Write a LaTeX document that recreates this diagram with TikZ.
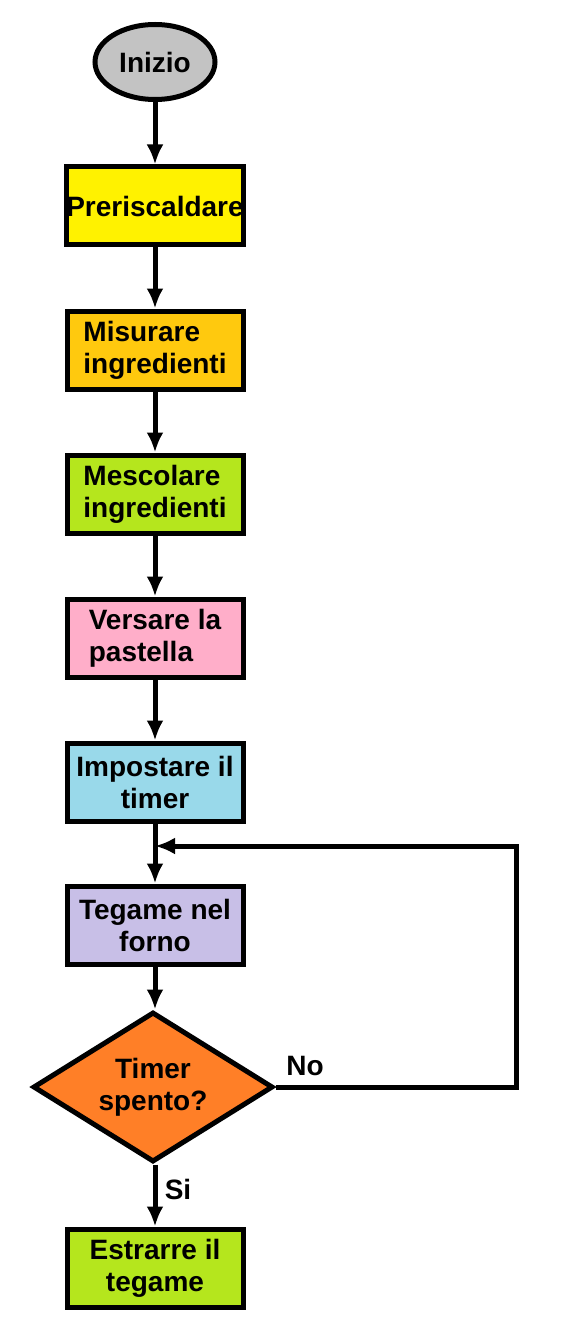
\documentclass[tikz,border=0pt]{standalone}
\usepackage{fontspec}
\setmainfont{Liberation Sans}
\usepackage{tikz}
\usepackage{xcolor}
\usetikzlibrary{arrows.meta}
\usetikzlibrary{shapes.geometric}

\definecolor{grigio}{HTML}{C3C3C3}
\definecolor{giallo}{HTML}{FFF200}
\definecolor{oro}{HTML}{FFC90E}
\definecolor{lime}{HTML}{B5E61D}
\definecolor{rosa}{HTML}{FFAEC9}
\definecolor{azzurro}{HTML}{99D9EA}
\definecolor{lavanda}{HTML}{C8BFE7}
\definecolor{arancio}{HTML}{FF7F27}

\tikzset{
    testo/.style={font=\fontsize{28}{32}\selectfont\bfseries},
    passo/.style={testo, draw=black, line width=5pt, minimum width=176pt, minimum height=78pt, inner sep=0pt, align=center},
    freccia/.style={line width=5pt, -{Latex[length=20pt,width=17pt]}}
}

\begin{document}
\begin{tikzpicture}[x=1pt,y=-1pt]
                \useasboundingbox (0,0) rectangle (560,1340);
                \node[testo, ellipse, draw=black, fill=grigio, line width=5pt, minimum width=120pt, minimum height=75pt, inner sep=0pt] (inizio) at (155,62) {Inizio};
                \node[passo, fill=giallo] (pre) at (155,206) {Preriscaldare};
                \node[passo, fill=oro, align=left] (mis) at (155,350) {Misurare\\ingredienti};
                \node[passo, fill=lime, align=left] (mes) at (155,494) {Mescolare\\ingredienti};
                \node[passo, fill=rosa, align=left] (ver) at (155,638) {Versare la\\pastella};
                \node[passo, fill=azzurro] (imp) at (155,782) {Impostare il\\timer};
                \node[passo, fill=lavanda] (teg) at (155,925) {Tegame nel\\forno};
                \node[testo, diamond, draw=black, fill=arancio, line width=5pt, shape aspect=1.6, minimum width=240pt, minimum height=150pt, inner sep=0pt, align=center] (dec) at (153,1087) {Timer\\spento?};
                \node[passo, fill=lime] (estr) at (155,1268) {Estrarre il\\tegame};
                \coordinate (giunto) at (155,846);
                \draw[freccia] (inizio.south) -- (pre.north);
                \draw[freccia] (pre.south) -- (mis.north);
                \draw[freccia] (mis.south) -- (mes.north);
                \draw[freccia] (mes.south) -- (ver.north);
                \draw[freccia] (ver.south) -- (imp.north);
                \draw[freccia] (imp.south) -- (teg.north);
                \draw[freccia] (teg.south) -- (teg.south |- dec.north);
                \draw[freccia] (dec.south -| estr.north) -- (estr.north);
                \draw[freccia] (dec.east) -- (516,1087) |- (giunto);
                \node[testo] (no) at (305,1066) {No};
                \node[testo] (si) at (178,1189) {Si};
            \end{tikzpicture}
\end{document}
